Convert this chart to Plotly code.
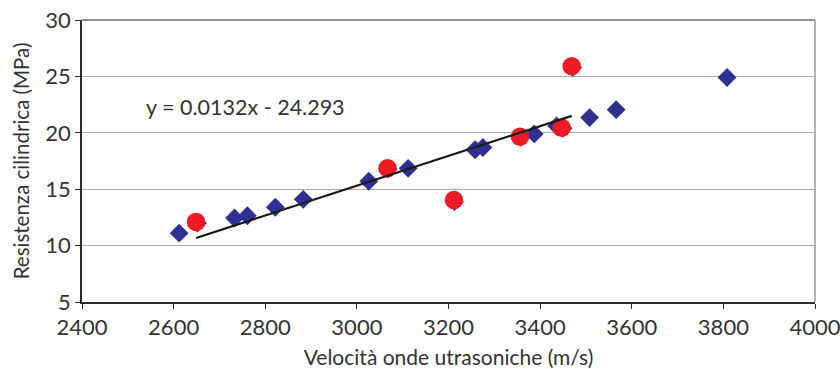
import plotly.graph_objects as go

# Ultrasonic pulse velocity (m/s) vs. cylinder compressive strength (MPa)
vel_all = [2612, 2652, 2733, 2761, 2822, 2883, 3026, 3068, 3112, 3213, 3258, 3275,
           3358, 3387, 3436, 3450, 3471, 3508, 3566, 3808]
res_all = [11.1, 12.0, 12.45, 12.65, 13.4, 14.1, 15.7, 16.8, 16.85, 13.9, 18.5, 18.7,
           19.6, 19.9, 20.6, 20.4, 25.8, 21.35, 22.05, 24.9]

vel_sel = [2649, 3067, 3212, 3356, 3447, 3469]
res_sel = [12.1, 16.85, 14.05, 19.65, 20.45, 25.9]

# linear trend of the highlighted samples
slope = 0.0132
intercept = -24.293
trend_x = [min(vel_sel), max(vel_sel)]
trend_y = [slope * v + intercept for v in trend_x]

FONT = "Lato"
TXT = "#333333"

fig = go.Figure()
fig.add_trace(go.Scatter(
    x=vel_all, y=res_all, mode="markers",
    marker=dict(symbol="diamond", size=14.5, color="#2E3192", line=dict(width=0)),
    showlegend=False, hoverinfo="skip"))
fig.add_trace(go.Scatter(
    x=vel_sel, y=res_sel, mode="markers",
    marker=dict(symbol="circle", size=18.5, color="#ED1C24", line=dict(width=0)),
    showlegend=False, hoverinfo="skip"))
fig.add_trace(go.Scatter(
    x=trend_x, y=trend_y, mode="lines",
    line=dict(color="#1a1a1a", width=2.2),
    showlegend=False, hoverinfo="skip"))

fig.add_annotation(
    x=2757, y=22.3, xref="x", yref="y",
    text=f"y = {slope}x - {abs(intercept)}",
    showarrow=False, font=dict(family=FONT, size=21.5, color=TXT))

fig.update_layout(
    width=840, height=369,
    margin=dict(l=82, r=25, t=20, b=67, autoexpand=False),
    paper_bgcolor="white", plot_bgcolor="white",
    font=dict(family=FONT, size=21, color=TXT),
)
fig.update_xaxes(
    range=[2400, 4000], dtick=200, tick0=2400,
    showgrid=False, zeroline=False, automargin=False,
    showline=True, linecolor="#2a2a2a", linewidth=1.5, mirror=False,
    ticks="outside", ticklen=5, tickcolor="#2a2a2a", tickwidth=1.2,
    ticklabeloverflow="allow",
    tickfont=dict(family=FONT, size=22, color=TXT),
    title=dict(text="Velocità onde utrasoniche (m/s)", standoff=12,
               font=dict(family=FONT, size=21, color=TXT)),
)
fig.update_yaxes(
    range=[5, 30], dtick=5, tick0=5,
    showgrid=True, gridcolor="#a8a8a8", gridwidth=1.3, zeroline=False,
    automargin=False,
    showline=True, linecolor="#2a2a2a", linewidth=1.5,
    ticks="outside", ticklen=5, tickcolor="#2a2a2a", tickwidth=1.2,
    ticklabeloverflow="allow",
    tickfont=dict(family=FONT, size=22, color=TXT),
    title=dict(text="Resistenza cilindrica (MPa)", standoff=10,
               font=dict(family=FONT, size=20.5, color=TXT)),
)
# frame on the top and right edges of the plot area
fig.add_shape(type="line", xref="paper", yref="paper", x0=0, x1=1, y0=1, y1=1,
              line=dict(color="#6a6a6a", width=1.3))
fig.add_shape(type="line", xref="paper", yref="paper", x0=1, x1=1, y0=0, y1=1,
              line=dict(color="#8a8a8a", width=1.3))

fig.write_html("out.html")
